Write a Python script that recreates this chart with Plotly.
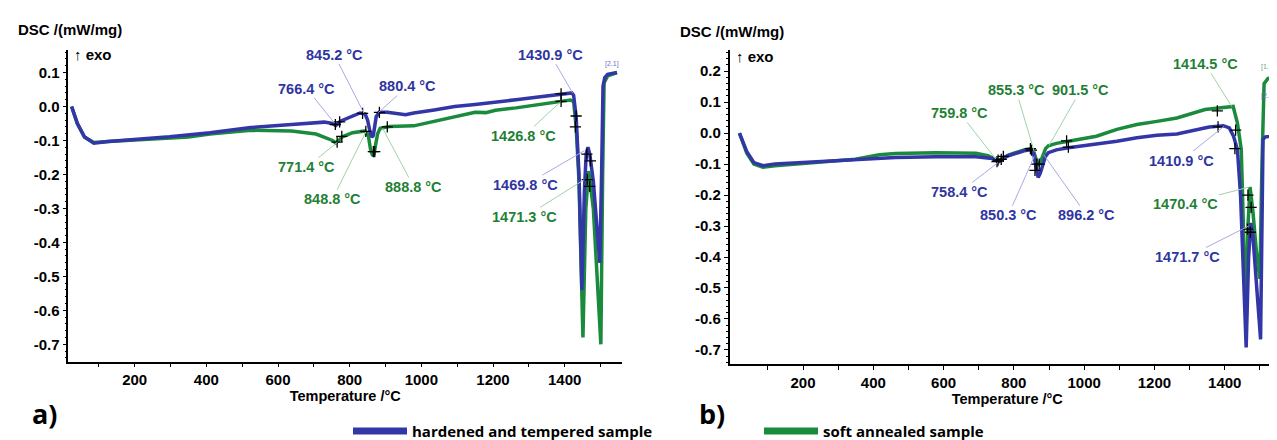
import plotly.graph_objects as go

# ---------------- data ----------------
# panel a) hardened and tempered (blue) / soft annealed (green)
a_blue_T = [24, 40, 60, 86, 126, 200, 297, 410, 524, 638, 729, 752, 761, 774, 803, 829, 843, 850, 857, 862, 866, 870,
            874, 882, 905, 956, 979, 1036, 1093, 1150, 1207, 1264, 1321, 1389, 1420, 1425, 1432, 1440, 1448, 1455, 1460,
            1465, 1470, 1480, 1490, 1498, 1503, 1507, 1512, 1520, 1546]
a_blue_v = [0.0, -0.05, -0.09, -0.108, -0.103, -0.097, -0.089, -0.077, -0.062, -0.053, -0.046, -0.05, -0.056, -0.043,
            -0.029, -0.019, -0.022, -0.04, -0.075, -0.09, -0.085, -0.06, -0.03, -0.017, -0.017, -0.024, -0.019, -0.01,
            0.0, 0.006, 0.014, 0.02, 0.027, 0.036, 0.04, 0.033, -0.03, -0.2, -0.54, -0.25, -0.14, -0.12, -0.14, -0.22,
            -0.36, -0.46, -0.2, 0.06, 0.085, 0.095, 0.1]
a_green_T = [24, 40, 60, 86, 126, 200, 297, 350, 410, 470, 524, 638, 706, 752, 761, 770, 778, 808, 843, 852, 858, 864,
             868, 872, 878, 885, 911, 979, 1036, 1093, 1150, 1180, 1207, 1264, 1321, 1389, 1416, 1425, 1432, 1440, 1451,
             1459, 1467, 1480, 1492, 1501, 1506, 1510, 1520, 1546]
a_green_v = [0.0, -0.05, -0.09, -0.106, -0.103, -0.098, -0.092, -0.09, -0.081, -0.074, -0.07, -0.072, -0.081, -0.1,
             -0.107, -0.1, -0.09, -0.077, -0.072, -0.085, -0.125, -0.145, -0.14, -0.115, -0.08, -0.064, -0.059, -0.057,
             -0.043, -0.029, -0.017, -0.018, -0.011, -0.004, 0.005, 0.016, 0.019, 0.015, -0.06, -0.22, -0.68, -0.3,
             -0.19, -0.3, -0.55, -0.70, -0.2, 0.07, 0.09, 0.1]

# panel b)
b_blue_T = [19, 40, 60, 86, 120, 234, 349, 463, 578, 692, 738, 750, 756, 766, 784, 829, 847, 855, 862, 869, 875, 881,
            890, 898, 921, 955, 1035, 1093, 1150, 1207, 1264, 1300, 1356, 1396, 1413, 1425, 1436, 1445, 1461, 1468,
            1474, 1480, 1490, 1502, 1509, 1516, 1530, 1535, 1545, 1556]
b_blue_v = [0.0, -0.06, -0.095, -0.105, -0.1, -0.093, -0.086, -0.079, -0.076, -0.076, -0.082, -0.09, -0.093, -0.084,
            -0.073, -0.057, -0.054, -0.06, -0.1, -0.143, -0.13, -0.105, -0.075, -0.063, -0.054, -0.047, -0.036, -0.026,
            -0.015, -0.007, -0.003, 0.005, 0.02, 0.024, 0.017, -0.01, -0.052, -0.2, -0.692, -0.4, -0.29, -0.33, -0.5,
            -0.666, -0.02, -0.012, -0.01, 0.02, 0.065, 0.096]
b_green_T = [19, 40, 60, 86, 120, 234, 349, 417, 463, 578, 692, 726, 748, 755, 766, 784, 829, 847, 855, 862, 869, 875,
             881, 890, 898, 921, 955, 1035, 1093, 1150, 1207, 1264, 1344, 1400, 1424, 1436, 1447, 1461, 1466, 1472,
             1480, 1490, 1500, 1506, 1512, 1523, 1556]
b_green_v = [0.0, -0.065, -0.1, -0.11, -0.105, -0.095, -0.084, -0.07, -0.066, -0.063, -0.065, -0.073, -0.085, -0.089,
             -0.082, -0.071, -0.054, -0.05, -0.055, -0.08, -0.105, -0.095, -0.079, -0.05, -0.041, -0.033, -0.026, -0.01,
             0.012, 0.028, 0.038, 0.049, 0.076, 0.082, 0.086, 0.033, -0.052, -0.62, -0.3, -0.174, -0.25, -0.38, -0.47,
             -0.1, 0.16, 0.176, 0.187]

# evaluation marks (+)
a_cross_T = [760, 772, 836, 883, 1390, 1432, 1462, 1472, 765, 778, 845, 866, 870, 905, 1390, 1430, 1463, 1470]
a_cross_v = [-0.053, -0.045, -0.02, -0.017, 0.037, -0.028, -0.14, -0.16, -0.105, -0.088, -0.073, -0.133, -0.133,
             -0.06, 0.015, -0.06, -0.215, -0.235]
b_cross_T = [752, 764, 850, 860, 872, 955, 1381, 1429, 755, 770, 847, 865, 950, 1379, 1431, 1466, 1475, 1465, 1473]
b_cross_v = [-0.092, -0.085, -0.055, -0.12, -0.1, -0.045, 0.02, -0.05, -0.087, -0.075, -0.05, -0.1, -0.025, 0.072,
             0.01, -0.2, -0.24, -0.31, -0.32]

# peak labels: text, text position (T, v), pointed position (T, v), series
a_labels = ["766.4 °C", "845.2 °C", "880.4 °C", "1430.9 °C", "1469.8 °C",
            "771.4 °C", "848.8 °C", "888.8 °C", "1426.8 °C", "1471.3 °C"]
a_lab_T = [680, 757, 962, 1360, 1292, 680, 752, 979, 1286, 1289]
a_lab_v = [0.053, 0.153, 0.06, 0.153, -0.23, -0.179, -0.273, -0.237, -0.086, -0.325]
a_pt_T = [757, 840, 880, 1422, 1455, 766, 845, 892, 1389, 1455]
a_pt_v = [-0.048, -0.02, -0.018, 0.04, -0.13, -0.105, -0.075, -0.064, 0.014, -0.215]
a_lab_s = ["b", "b", "b", "b", "b", "g", "g", "g", "g", "g"]

b_labels = ["1414.5 °C", "855.3 °C", "901.5 °C", "759.8 °C", "1470.4 °C",
            "758.4 °C", "850.3 °C", "896.2 °C", "1410.9 °C", "1471.7 °C"]
b_lab_T = [1344, 806, 990, 646, 1287, 646, 784, 1007, 1276, 1293]
b_lab_v = [0.224, 0.139, 0.139, 0.065, -0.228, -0.19, -0.265, -0.265, -0.089, -0.40]
b_pt_T = [1420, 858, 900, 748, 1470, 755, 858, 885, 1398, 1468]
b_pt_v = [0.086, -0.06, -0.04, -0.083, -0.174, -0.095, -0.075, -0.07, 0.022, -0.30]
b_lab_s = ["g", "g", "g", "g", "g", "b", "b", "b", "b", "b"]

x_ticks = [200, 400, 600, 800, 1000, 1200, 1400]
x_minor = [100, 300, 500, 700, 900, 1100, 1300, 1500]
ya_ticks = [0.1, 0.0, -0.1, -0.2, -0.3, -0.4, -0.5, -0.6, -0.7]
yb_ticks = [0.2, 0.1, 0.0, -0.1, -0.2, -0.3, -0.4, -0.5, -0.6, -0.7]

series_names = ["hardened and tempered sample", "soft annealed sample"]

# ---------------- styling ----------------
W, H = 1277, 440
BLUE = "#3236a6"
GREEN = "#1a8a3c"
BLUE_T = "#2f35a0"
GREEN_T = "#1f7f35"
BLUE_L = "#a7a9e6"
GREEN_L = "#9fd3a8"
AX_FONT = "Liberation Sans, Arial, sans-serif"


def px(x):
    return x / W


def py(y):
    return 1 - y / H


def fmt(v):
    return "%.1f" % v if abs(v) > 1e-9 else "0.0"


fig = go.Figure()

# curves: green first, blue on top
for T, v, c, ax in [(a_green_T, a_green_v, GREEN, 1), (a_blue_T, a_blue_v, BLUE, 1),
                    (b_green_T, b_green_v, GREEN, 2), (b_blue_T, b_blue_v, BLUE, 2)]:
    fig.add_trace(go.Scatter(x=T, y=v, mode="lines", line=dict(color=c, width=3.5),
                             xaxis="x" if ax == 1 else "x2", yaxis="y" if ax == 1 else "y2",
                             showlegend=False, hoverinfo="skip"))

fig.add_trace(go.Scatter(x=a_cross_T, y=a_cross_v, mode="markers", xaxis="x", yaxis="y",
                         marker=dict(symbol="cross-thin", size=8, line=dict(color="black", width=1.3)),
                         showlegend=False, hoverinfo="skip"))
fig.add_trace(go.Scatter(x=b_cross_T, y=b_cross_v, mode="markers", xaxis="x2", yaxis="y2",
                         marker=dict(symbol="cross-thin", size=8, line=dict(color="black", width=1.3)),
                         showlegend=False, hoverinfo="skip"))

# legend entries (two independent legends, placed like the original)
fig.add_trace(go.Scatter(x=[None], y=[None], mode="lines", name=series_names[0], legend="legend",
                         line=dict(color=BLUE, width=7), xaxis="x", yaxis="y"))
fig.add_trace(go.Scatter(x=[None], y=[None], mode="lines", name=series_names[1], legend="legend2",
                         line=dict(color=GREEN, width=7), xaxis="x", yaxis="y"))

annotations = []
for labels, lT, lv, pT, pv, ss, xr, yr in [
    (a_labels, a_lab_T, a_lab_v, a_pt_T, a_pt_v, a_lab_s, "x", "y"),
    (b_labels, b_lab_T, b_lab_v, b_pt_T, b_pt_v, b_lab_s, "x2", "y2")]:
    for t, x0, y0, x1, y1, s in zip(labels, lT, lv, pT, pv, ss):
        annotations.append(dict(
            text=t, x=x1, y=y1, xref=xr, yref=yr, ax=x0, ay=y0, axref=xr, ayref=yr,
            showarrow=True, arrowhead=0, arrowwidth=1, standoff=0,
            arrowcolor=BLUE_L if s == "b" else GREEN_L,
            font=dict(family=AX_FONT, size=14.5, weight="bold", color=BLUE_T if s == "b" else GREEN_T)))

# small curve tags
annotations += [
    dict(text="[2.1]", x=1533, y=0.125, xref="x", yref="y", showarrow=False,
         font=dict(size=7, color="#6f74c8", family=AX_FONT)),
    dict(text="[1.1]", x=1548, y=0.215, xref="x2", yref="y2", xanchor="right", showarrow=False,
         font=dict(size=7, color="#6fa87a", family=AX_FONT)),
    dict(text="[2.1]", x=1548, y=0.12, xref="x2", yref="y2", xanchor="right", showarrow=False,
         font=dict(size=7, color="#6f74c8", family=AX_FONT)),
]

# headers
for xpix, ypix, txt, size in [(8, 22, "DSC /(mW/mg)", 15), (670, 24, "DSC /(mW/mg)", 15),
                              (64, 47, "↑ exo", 15), (726, 50, "↑ exo", 15)]:
    annotations.append(dict(text=txt, x=px(xpix), y=py(ypix), xref="paper", yref="paper",
                            xanchor="left", yanchor="middle", showarrow=False,
                            font=dict(family=AX_FONT, size=size, weight="bold", color="black")))
for xpix, txt in [(22, "a)"), (689, "b)")]:
    annotations.append(dict(text=txt, x=px(xpix), y=py(414), xref="paper", yref="paper",
                            xanchor="left", yanchor="middle", showarrow=False,
                            font=dict(family="Open Sans, sans-serif", size=27, weight="bold", color="black")))

axis_common = dict(showline=True, linecolor="black", linewidth=1.5, ticks="outside", tickcolor="black",
                   showgrid=False, zeroline=False,
                   tickfont=dict(family=AX_FONT, size=15, weight="bold", color="black"))

xcommon = dict(axis_common, tickmode="array", tickvals=x_ticks, ticktext=[str(t) for t in x_ticks], ticklen=4,
               minor=dict(tickmode="array", tickvals=x_minor, ticklen=4, tickcolor="black", ticks="outside"),
               title=dict(text="Temperature /°C", standoff=1,
                          font=dict(family=AX_FONT, size=14.5, weight="bold", color="black")))

legend_common = dict(orientation="h", y=py(432), xanchor="left", yanchor="middle", itemwidth=54,
                     font=dict(family="Open Sans, sans-serif", size=15, weight="bold", color="black"),
                     bgcolor="rgba(0,0,0,0)", borderwidth=0)

fig.update_layout(
    width=W, height=H,
    margin=dict(l=0, r=0, t=0, b=0),
    paper_bgcolor="white", plot_bgcolor="white",
    xaxis=dict(xcommon, domain=[px(60.4), px(614)], range=[15, 1560], anchor="y"),
    yaxis=dict(axis_common, domain=[py(361), py(43)], range=[-0.751, 0.166], anchor="x",
               tickmode="array", tickvals=ya_ticks, ticktext=[fmt(v) for v in ya_ticks], ticklen=4,
               minor=dict(dtick=0.02, ticklen=2, tickcolor="black", ticks="outside")),
    xaxis2=dict(xcommon, domain=[px(721.6), 1.0], range=[-9, 1571.5], anchor="y2"),
    yaxis2=dict(axis_common, domain=[py(363.3), py(43)], range=[-0.745, 0.268], anchor="x2",
                tickmode="array", tickvals=yb_ticks, ticktext=[fmt(v) for v in yb_ticks], ticklen=4,
                minor=dict(dtick=0.02, ticklen=2, tickcolor="black", ticks="outside")),
    legend=dict(legend_common, x=px(340)),
    legend2=dict(legend_common, x=px(751)),
    annotations=annotations,
)

fig.write_html("out.html")
